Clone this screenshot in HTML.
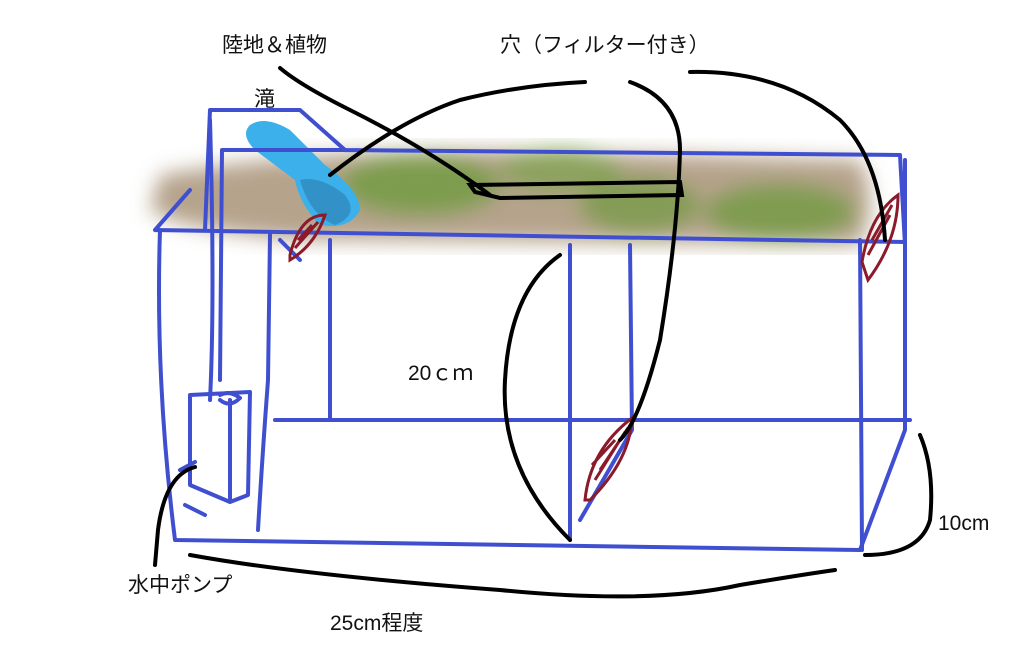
<!DOCTYPE html>
<html><head><meta charset="utf-8"><style>
html,body{margin:0;padding:0;background:#fff;}
svg{display:block}
text{font-family:"Liberation Sans","Noto Sans CJK JP",sans-serif;font-size:21px;fill:#111}
</style></head><body>
<svg width="1024" height="657" viewBox="0 0 1024 657" xmlns="http://www.w3.org/2000/svg">
<defs>
<filter id="bl"><feGaussianBlur stdDeviation="10"/></filter>
</defs>
<!-- terrain -->
<g filter="url(#bl)">
<path d="M160 175 Q300 150 500 150 L860 160 Q880 200 860 245 L300 240 Q180 230 150 210 Z" fill="#9c8466" opacity="0.75"/>
<ellipse cx="420" cy="185" rx="80" ry="30" fill="#6f9a3d" opacity="0.8"/>
<ellipse cx="560" cy="170" rx="60" ry="22" fill="#7aa24a" opacity="0.7"/>
<ellipse cx="640" cy="205" rx="60" ry="28" fill="#6f9a3d" opacity="0.7"/>
<ellipse cx="780" cy="212" rx="75" ry="28" fill="#6f9a3d" opacity="0.75"/>
</g>
<!-- waterfall -->
<path d="M250 125 Q265 115 290 130 L325 165 Q360 190 360 210 Q350 230 320 225 Q300 205 295 180 L255 150 Q240 135 250 125Z" fill="#3cb0ea"/>
<path d="M300 180 Q320 175 345 195 Q360 215 335 225 Q310 215 300 180Z" fill="#2b7fb0" opacity="0.6"/>
<!-- blue box -->
<g stroke="#3f4fd0" stroke-width="4" fill="none" stroke-linecap="round" stroke-linejoin="round">
<path d="M205 230 L210 110 L300 110 L345 150 M345 150 L900 155 L905 245"/>
<path d="M155 230 L190 190 M155 230 L905 242"/>
<path d="M160 230 Q155 380 175 540 L860 550 L905 430 L905 160"/>
<path d="M222 150 L345 150 M222 150 L220 380 M210 120 Q215 300 210 400"/>
<path d="M270 235 L268 380 M268 380 Q262 460 258 530"/>
<path d="M330 240 L330 420 M280 240 L300 260"/>
<path d="M570 245 L570 540 M630 245 L632 430 L580 520"/>
<path d="M860 240 L862 550"/>
<path d="M275 420 L910 420"/>
<path d="M190 395 L250 392 L248 495 L230 502 L190 485 Z M230 400 L230 500 M220 395 Q230 390 240 398 Q230 408 220 400"/>
<path d="M185 505 L205 515 M180 470 L195 462"/>
</g>
<!-- red marks -->
<g stroke="#8b1a2a" stroke-width="3" fill="none">
<path d="M290 255 Q300 215 325 215 Q315 245 290 260Z M295 248 L318 222 M298 240 L312 225"/>
<path d="M862 262 Q870 215 898 195 Q898 240 868 280Z M868 255 L890 215 M872 240 L892 205"/>
<path d="M585 500 Q590 450 632 418 Q630 460 590 500Z M595 480 L625 432 M600 470 L628 428 M592 465 L615 440"/>
</g>
<!-- black leader lines -->
<g stroke="#000" stroke-width="4" fill="none" stroke-linecap="round">
<path d="M280 68 Q300 85 350 110 Q430 150 490 195"/>
<path d="M330 175 Q400 120 460 100 Q520 85 585 82"/>
<path d="M470 185 L680 182 L682 195 L500 198 L475 192Z"/>
<path d="M630 82 Q680 100 680 150 Q678 230 660 340 Q640 420 620 440"/>
<path d="M690 72 Q780 70 840 120 Q880 160 885 240"/>
<path d="M560 255 Q510 290 505 380 Q500 470 570 540"/>
<path d="M920 435 Q935 470 930 520 Q920 555 865 555"/>
<path d="M195 467 Q165 475 158 530 L155 565"/>
<path d="M190 555 Q300 575 500 590 Q650 605 740 585 Q800 575 835 570"/>
</g>
<text x="222" y="52">陸地＆植物</text>
<text x="500" y="52">穴（フィルター付き）</text>
<text x="254" y="106">滝</text>
<text x="408" y="380">20ｃｍ</text>
<text x="938" y="530">10cm</text>
<text x="128" y="592">水中ポンプ</text>
<text x="330" y="630">25cm程度</text>
</svg>
</body></html>
